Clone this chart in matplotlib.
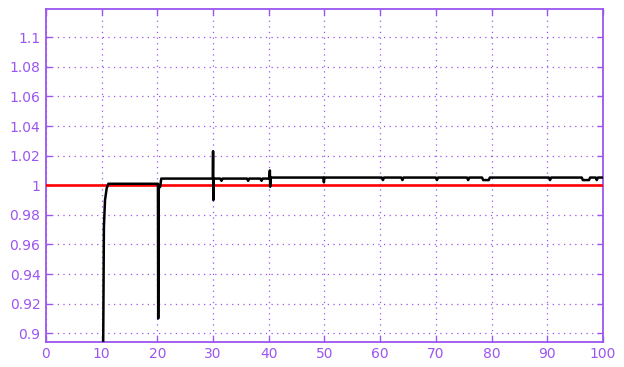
import numpy as np
import matplotlib.pyplot as plt

# response of the black signal
t = [10.2, 10.3, 10.4, 10.6, 10.9, 11.2, 20.0, 20.1, 20.15, 20.25, 20.5, 20.7,
     29.95, 30.0, 30.05, 30.1, 31.3, 31.5, 31.7, 36.1, 36.3, 36.5, 38.5, 38.7, 38.9,
     40.1, 40.2, 40.25, 40.35, 49.8, 49.9, 50.0, 60.3, 60.5, 60.7, 63.8, 64.0, 64.2,
     70.0, 70.2, 70.4, 75.6, 75.8, 76.0, 78.3, 78.5, 79.5, 79.7, 90.3, 90.5, 90.7,
     96.2, 96.4, 97.5, 97.7, 98.7, 98.9, 99.1, 100.0]
y = [0.85, 0.91, 0.972, 0.99, 0.998, 1.001, 1.001, 1.001, 0.91, 0.998, 0.999, 1.0045,
     1.0045, 1.023, 0.99, 1.0045, 1.0045, 1.003, 1.0045, 1.0045, 1.003, 1.0045, 1.0045, 1.003, 1.0045,
     1.0045, 1.010, 0.999, 1.0052, 1.0052, 1.002, 1.0052, 1.0052, 1.0035, 1.0052, 1.0052, 1.0035, 1.0052,
     1.0052, 1.0035, 1.0052, 1.0052, 1.0035, 1.0052, 1.0052, 1.0035, 1.0035, 1.0052, 1.0052, 1.0035, 1.0052,
     1.0052, 1.0035, 1.0035, 1.0052, 1.0052, 1.0035, 1.0052, 1.0052]

ref_t = [0, 100]
ref_y = [1.0, 1.0]

xticks = np.arange(0, 101, 10)
yticks = [0.9, 0.92, 0.94, 0.96, 0.98, 1.0, 1.02, 1.04, 1.06, 1.08, 1.1]
ylabels = ['0.9', '0.92', '0.94', '0.96', '0.98', '1', '1.02', '1.04', '1.06', '1.08', '1.1']

purple = '#9b55f0'

fig = plt.figure(figsize=(6.24, 3.67), dpi=100)
ax = fig.add_axes([0.0737, 0.069, 0.8925, 0.9057])

ax.plot(ref_t, ref_y, color='#ff0000', lw=1.9, zorder=3)
ax.plot(t, y, color='black', lw=1.8, zorder=4)

ax.set_xlim(0, 100)
ax.set_ylim(0.8943, 1.1189)
ax.set_xticks(xticks)
ax.set_yticks(yticks)
ax.set_yticklabels(ylabels)

ax.grid(True, color=purple, linestyle=(0, (1, 3.5)), linewidth=0.9)
ax.tick_params(direction='in', length=4, width=1, color=purple, labelcolor=purple,
               labelsize=10, top=True, right=True, pad=4)
for s in ax.spines.values():
    s.set_color(purple)
    s.set_linewidth(1.3)

fig.savefig('out.png', dpi=100)
